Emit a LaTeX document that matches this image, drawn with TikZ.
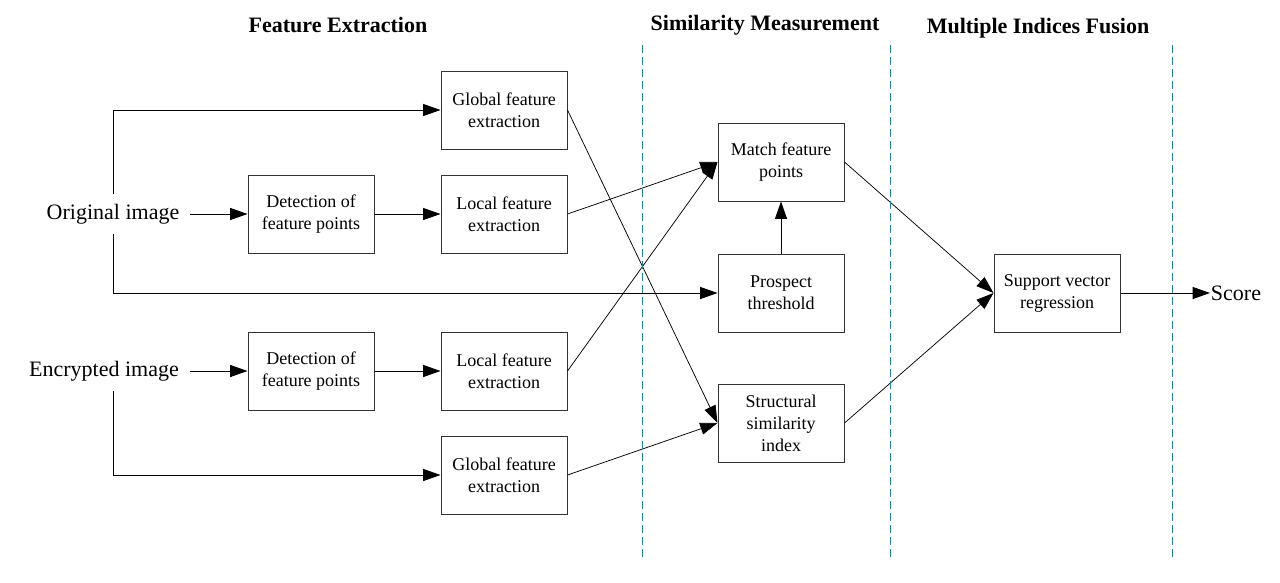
\documentclass[tikz,border=0pt]{standalone}
\usepackage{fontspec}
\setmainfont{Liberation Serif}
\usetikzlibrary{arrows.meta}
\definecolor{sep}{RGB}{35,130,150}
\begin{document}
\begin{tikzpicture}[x=0.75pt,y=-0.75pt,
  box/.style={draw=black!80, line width=0.75pt, minimum width=94.5pt, minimum height=58.5pt,
    align=center, inner sep=0pt, font=\fontsize{13.5}{16.5}\selectfont},
  arr/.style={-{Triangle[length=13pt,width=9pt]}, line width=0.7pt},
  conn/.style={line width=0.55pt},
  lbl/.style={font=\fontsize{16.5}{19}\selectfont, inner xsep=8pt, inner ysep=0pt, minimum height=30pt},
  title/.style={font=\fontsize{16.5}{19}\selectfont\bfseries},
  sepline/.style={draw=sep, line width=0.75pt, dash pattern=on 6pt off 3pt}]
\useasboundingbox (0,0) rectangle (1280,582);
\fill[white] (0,0) rectangle (1280,582);

% titles
\node[title] (t1) at (338,25) {Feature Extraction};
\node[title] (t2) at (765,25) {Similarity Measurement};
\node[title] (t3) at (1038,28) {Multiple Indices Fusion};

% inputs
\node[lbl] (orig) at (113,214) {Original image};
\node[lbl] (enc) at (104,371) {Encrypted image};

% boxes
\node[box] (gtop) at (504,110) {Global feature\\extraction};
\node[box] (dtop) at (311,214) {Detection of\\feature points};
\node[box] (ltop) at (504,214) {Local feature\\extraction};
\node[box] (dbot) at (311,371) {Detection of\\feature points};
\node[box] (lbot) at (504,371) {Local feature\\extraction};
\node[box] (gbot) at (504,475) {Global feature\\extraction};
\node[box] (match) at (781,162) {Match feature\\points};
\node[box] (pros) at (781,293) {Prospect\\threshold};
\node[box] (ssim) at (781,423) {Structural\\similarity\\index};
\node[box] (svr) at (1057,293) {Support vector\\regression};
\node[font=\fontsize{16.5}{19}\selectfont, inner sep=0.5pt, anchor=west] (score) at (1210,293) {Score};

% connectors
\draw[arr] (orig) -- (dtop);
\draw[arr] (enc.east |- dbot.west) -- (dbot);
\draw[arr] (orig.north) |- (gtop.west);
\draw[arr] (orig.south) |- (pros.west);
\draw[arr] (enc.south -| orig.south) |- (gbot.west);
\draw[arr] (dtop) -- (ltop);
\draw[arr] (dbot) -- (lbot);
\draw[arr,conn] (ltop.east) -- (match.west);
\draw[arr,conn] (lbot.east) -- (match.west);
\draw[arr,conn] (gtop.east) -- (ssim.west);
\draw[arr,conn] (gbot.east) -- (ssim.west);
\draw[arr] (pros) -- (match);
\draw[arr,conn] (match.east) -- (svr.west);
\draw[arr,conn] (ssim.east) -- (svr.west);
\draw[arr] (svr) -- (score);

% separators
\coordinate (s1a) at (642,45); \coordinate (s1b) at (642,558);
\coordinate (s2a) at (890,45); \coordinate (s2b) at (890,560);
\coordinate (s3a) at (1172,45); \coordinate (s3b) at (1172,560);
\draw[sepline] (s1a) -- (s1b);
\draw[sepline] (s2a) -- (s2b);
\draw[sepline] (s3a) -- (s3b);
\end{tikzpicture}
\end{document}
